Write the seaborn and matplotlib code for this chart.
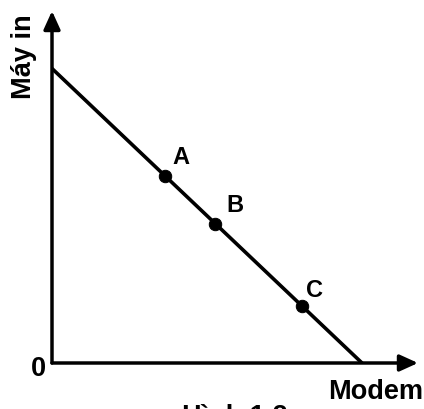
import matplotlib
matplotlib.use("Agg")
import matplotlib.pyplot as plt
import seaborn as sns
import pandas as pd

# production possibility line: modem vs printer (may in)
line_modem = [0, 10]
line_mayin = [9.5, 0]

point_names = ["A", "B", "C"]
point_modem = [3.65, 5.26, 8.06]
point_mayin = [6.02, 4.5, 1.84]

sns.set_style("white")
plt.rcParams["font.family"] = ["Liberation Sans", "DejaVu Sans"]
plt.rcParams["text.color"] = "black"

fig = plt.figure(figsize=(4.24, 4.10), dpi=100)
# origin sits at pixel (52, 364), 31 px per unit
ax = fig.add_axes([52 / 424, 46 / 410, 366 / 424, 352 / 410])
ax.set_xlim(0, 366 / 31)
ax.set_ylim(0, 352 / 31)

df_line = pd.DataFrame({"modem": line_modem, "mayin": line_mayin})
sns.lineplot(data=df_line, x="modem", y="mayin", ax=ax, color="black",
             linewidth=2.6, zorder=3)

df_pts = pd.DataFrame({"name": point_names, "modem": point_modem,
                       "mayin": point_mayin})
sns.scatterplot(data=df_pts, x="modem", y="mayin", ax=ax, color="black",
                s=80, edgecolor="black", zorder=4)

offsets = [(11, 14), (14, 14), (9, 12)]
for name, x, y, off in zip(point_names, point_modem, point_mayin, offsets):
    ax.annotate(name, (x, y), xytext=off, textcoords="offset points",
                ha="center", va="center", fontsize=17, fontweight="bold",
                color="black")

# axes with arrow heads
for spine in ax.spines.values():
    spine.set_visible(False)
ax.set_xticks([])
ax.set_yticks([])
ax.set_xlabel("")
ax.set_ylabel("")
arrow = dict(arrowstyle="-|>,head_length=1.1,head_width=0.5", color="black",
             linewidth=2.5, shrinkA=0, shrinkB=0)
ax.annotate("", xy=(1, 0), xytext=(0, 0), xycoords="axes fraction",
            arrowprops=arrow)
ax.annotate("", xy=(0, 1), xytext=(0, 0), xycoords="axes fraction",
            arrowprops=arrow)

fig.text(24 / 424, 1 - 57 / 410, "Máy in", rotation=90, ha="center",
         va="center", fontsize=19.5, fontweight="bold", color="black")
fig.text(376 / 424, 1 - 392 / 410, "Modem", ha="center", va="center",
         fontsize=19.5, fontweight="bold", color="black")
fig.text(38 / 424, 1 - 369 / 410, "0", ha="center", va="center",
         fontsize=19.5, fontweight="bold", color="black")
# caption below the chart, mostly cropped by the image edge as in the source
fig.text(235 / 424, 1 - 404 / 410, "Hình 1.2", ha="center", va="top",
         fontsize=19.5, fontweight="bold", color="black")

fig.savefig("out.png", dpi=100)
